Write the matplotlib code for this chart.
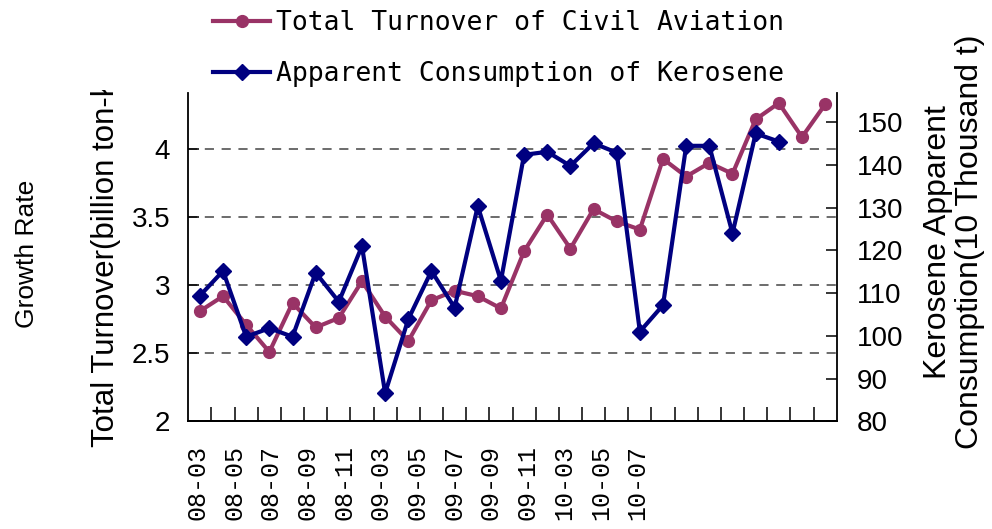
import numpy as np
import matplotlib
matplotlib.use("Agg")
import matplotlib.pyplot as plt
from matplotlib.transforms import Bbox, TransformedBbox

plt.rcParams["font.family"] = ["Liberation Sans", "DejaVu Sans"]

# ---------------- data ----------------
months = ["08-03", "08-04", "08-05", "08-06", "08-07", "08-08", "08-09", "08-10",
          "08-11", "08-12", "09-01", "09-02", "09-03", "09-04", "09-05", "09-06",
          "09-07", "09-08", "09-09", "09-10", "09-11", "09-12", "10-01", "10-02",
          "10-03", "10-04", "10-05", "10-06"]
turnover = [2.81, 2.92, 2.71, 2.51, 2.87, 2.69, 2.76, 3.03, 2.77, 2.59,
            2.89, 2.96, 2.92, 2.83, 3.25, 3.52, 3.27, 3.56, 3.47, 3.41,
            3.93, 3.80, 3.90, 3.82, 4.22, 4.34, 4.09, 4.33]
kerosene = [109.4, 115.2, 99.8, 101.8, 99.8, 114.8, 108.0, 121.0, 86.6, 103.9,
            115.2, 106.6, 130.4, 112.9, 142.4, 143.1, 139.8, 145.1, 142.9, 101.0,
            107.2, 144.5, 144.5, 124.0, 147.4, 145.5]
tick_labels = ["08-03", "08-05", "08-07", "08-09", "08-11", "09-03", "09-05",
               "09-07", "09-09", "09-11", "10-03", "10-05", "10-07"]
left_ticks = [2, 2.5, 3, 3.5, 4]
left_tick_text = ["2", "2.5", "3", "3.5", "4"]
right_ticks = [80, 90, 100, 110, 120, 130, 140, 150]

name_turnover = "Total Turnover of Civil Aviation"
name_kerosene = "Apparent Consumption of Kerosene"

PINK = "#993366"
NAVY = "#000080"

W, H = 992, 529
fig = plt.figure(figsize=(W / 100, H / 100), dpi=100)
ax = fig.add_axes([188.3 / W, 1 - 421.3 / H, (836.7 - 188.3) / W, (421.3 - 93) / H])

x1 = np.arange(len(turnover))
x2 = np.arange(len(kerosene))

l1, = ax.plot(x1, turnover, color=PINK, lw=3.0, marker="o", ms=8.5,
              label=name_turnover, zorder=3)
ax.set_xlim(-0.5, len(months) - 0.5)
ax.set_ylim(2, 4.414)
ax.set_axisbelow(True)
ax.yaxis.grid(True, linestyle=(0, (6, 5)), color="#444444", lw=1.1)

ax2 = ax.twinx()
l2, = ax2.plot(x2, kerosene, color=NAVY, lw=3.0, marker="D", ms=8,
               label=name_kerosene, zorder=3)
ax2.set_ylim(80, 156.87)

# spines
for a in (ax, ax2):
    a.spines["top"].set_visible(False)
    for s in a.spines.values():
        s.set_linewidth(1.3)
        s.set_color("black")
ax.spines["right"].set_visible(False)
ax2.spines["left"].set_visible(False)

# y ticks
ax.set_yticks(left_ticks, labels=left_tick_text)
ax.tick_params(axis="y", direction="in", length=8, width=1.1, pad=13, labelsize=20)
ax2.set_yticks(right_ticks)
ax2.tick_params(axis="y", direction="in", length=8, width=1.1, pad=14.4, labelsize=20)

# x ticks at category boundaries, no labels
ax.set_xticks(np.arange(0.5, len(months) - 1, 1.0))
ax.tick_params(axis="x", direction="in", length=10, width=1.1, labelbottom=False)

# label axis (labels spaced as in the reference)
x0, step = -0.103, 1.5835
sec = ax.secondary_xaxis("bottom", functions=(lambda v: (v - x0) / step,
                                              lambda k: k * step + x0))
sec.set_xticks(np.arange(len(tick_labels)), labels=tick_labels)
sec.tick_params(axis="x", length=0, pad=17, labelsize=18, labelrotation=90,
                labelfontfamily="Liberation Mono")
sec.spines["bottom"].set_visible(False)

# axis titles
fig.text(27 / W, 1 - 254 / H, "Growth Rate", rotation=90, fontsize=19,
         ha="center", va="center")
t = fig.text(106 / W, 1 - 447 / H, "Total Turnover(billion ton-km)", rotation=90,
             fontsize=22.5, ha="center", va="bottom")
t.set_clip_box(TransformedBbox(Bbox([[0, 0], [1, 1 - 90 / H]]), fig.transFigure))
t.set_clip_on(True)
fig.text(954 / W, 1 - 242 / H, "Kerosene Apparent\nConsumption(10 Thousand t)",
         rotation=90, fontsize=23, ha="center", va="center",
         multialignment="center", linespacing=1.05)

# legend
fig.legend(handles=[l1, l2], loc="upper left",
           bbox_to_anchor=(213 / W, 1 - 10 / H), frameon=False,
           prop={"family": "DejaVu Sans Mono", "size": 19},
           handlelength=2.16, handletextpad=0.23, labelspacing=0.95,
           borderpad=0, borderaxespad=0)

fig.savefig("out.png", dpi=100)
